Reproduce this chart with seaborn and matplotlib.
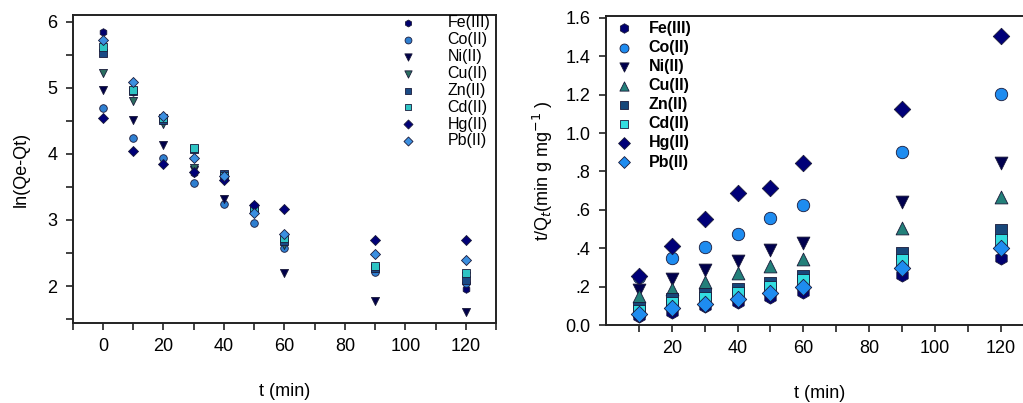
import numpy as np
import pandas as pd
import matplotlib
matplotlib.use("Agg")
import matplotlib.pyplot as plt
import seaborn as sns
from matplotlib.ticker import FixedLocator, FuncFormatter

sns.set_style("ticks")
plt.rcParams['font.family'] = ['Liberation Sans', 'DejaVu Sans']
plt.rcParams['text.color'] = 'black'
plt.rcParams['axes.labelcolor'] = 'black'

metals = ["Fe(III)", "Co(II)", "Ni(II)", "Cu(II)", "Zn(II)", "Cd(II)", "Hg(II)", "Pb(II)"]

# Left panel: pseudo-first-order ln(Qe-Qt) vs t
t_left = [0, 10, 20, 30, 40, 50, 60, 90, 120]
ln_fe = [5.85, 4.93, 4.50, 3.71, 3.62, 3.22, 2.65, 2.25, 1.96]
ln_co = [4.69, 4.24, 3.94, 3.56, 3.24, 2.96, 2.57, 2.21, 2.05]
ln_ni = [4.97, 4.51, 4.14, 3.76, 3.32, 3.15, 2.19, 1.77, 1.60]
ln_cu = [5.23, 4.80, 4.45, 3.78, 3.63, 3.15, 2.62, 2.27, 2.15]
ln_zn = [5.52, 4.95, 4.52, 4.08, 3.69, 3.18, 2.68, 2.28, 2.09]
ln_cd = [5.62, 4.97, 4.55, 4.09, 3.67, 3.17, 2.72, 2.30, 2.20]
ln_hg = [4.54, 4.04, 3.84, 3.72, 3.60, 3.22, 3.17, 2.70, 2.70]
ln_pb = [5.73, 5.09, 4.58, 3.93, 3.66, 3.10, 2.78, 2.48, 2.40]

# Right panel: pseudo-second-order t/Qt vs t
t_right = [10, 20, 30, 40, 50, 60, 90, 120]
tq_fe = [0.045, 0.070, 0.100, 0.118, 0.148, 0.174, 0.260, 0.347]
tq_co = [0.250, 0.347, 0.405, 0.474, 0.556, 0.625, 0.903, 1.204]
tq_ni = [0.180, 0.238, 0.287, 0.335, 0.390, 0.429, 0.643, 0.846]
tq_cu = [0.150, 0.190, 0.226, 0.270, 0.307, 0.344, 0.504, 0.665]
tq_zn = [0.087, 0.134, 0.162, 0.190, 0.220, 0.255, 0.374, 0.495]
tq_cd = [0.075, 0.115, 0.140, 0.165, 0.200, 0.235, 0.339, 0.443]
tq_hg = [0.255, 0.410, 0.552, 0.690, 0.712, 0.846, 1.125, 1.506]
tq_pb = [0.060, 0.087, 0.109, 0.134, 0.168, 0.196, 0.299, 0.400]

left_vals = [ln_fe, ln_co, ln_ni, ln_cu, ln_zn, ln_cd, ln_hg, ln_pb]
right_vals = [tq_fe, tq_co, tq_ni, tq_cu, tq_zn, tq_cd, tq_hg, tq_pb]

left_style = {
    "Fe(III)": ("h", "#00006e", 30),
    "Co(II)": ("o", "#2f7fd0", 30),
    "Ni(II)": ("v", "#00004a", 34),
    "Cu(II)": ("v", "#2a6e60", 34),
    "Zn(II)": ("s", "#1a4a85", 28),
    "Cd(II)": ("s", "#2ec4c4", 28),
    "Hg(II)": ("D", "#000078", 26),
    "Pb(II)": ("D", "#3b8fe0", 26),
}
right_style = {
    "Fe(III)": ("h", "#000070", 90),
    "Co(II)": ("o", "#1e8cf0", 80),
    "Ni(II)": ("v", "#00004e", 85),
    "Cu(II)": ("^", "#23807a", 85),
    "Zn(II)": ("s", "#17477a", 65),
    "Cd(II)": ("s", "#33dde0", 65),
    "Hg(II)": ("D", "#000078", 70),
    "Pb(II)": ("D", "#1e8cf0", 70),
}

fig = plt.figure(figsize=(10.23, 4.03), dpi=100)
ax1 = fig.add_axes([0.0711, 0.1985, 0.4138, 0.764])
ax2 = fig.add_axes([0.5924, 0.1935, 0.418, 0.767])

df_left = pd.DataFrame({"t": np.tile(t_left, len(metals)),
                        "v": np.concatenate(left_vals),
                        "metal": np.repeat(metals, len(t_left))})
df_right = pd.DataFrame({"t": np.tile(t_right, len(metals)),
                         "v": np.concatenate(right_vals),
                         "metal": np.repeat(metals, len(t_right))})

for m in metals:
    mk, c, s = left_style[m]
    sns.scatterplot(data=df_left[df_left.metal == m], x="t", y="v", ax=ax1,
                    marker=mk, color=c, s=s, edgecolor="#1a1a3a", linewidth=0.6,
                    label=m, legend=False, zorder=3)
    mk, c, s = right_style[m]
    sns.scatterplot(data=df_right[df_right.metal == m], x="t", y="v", ax=ax2,
                    marker=mk, color=c, s=s, edgecolor="#1a1a3a", linewidth=0.6,
                    label=m, legend=False, zorder=3)

for ax in (ax1, ax2):
    for sp in ax.spines.values():
        sp.set_linewidth(1.4)
        sp.set_color("#222222")
        sp.set_visible(True)
    ax.tick_params(which="both", direction="out", width=1.2, color="#222222",
                   labelcolor="black", labelsize=13, length=5, pad=6)

ax1.set_xlabel("t (min)", fontsize=13, labelpad=20)
ax2.set_xlabel("t (min)", fontsize=13, labelpad=20)

# Left axes
ax1.set_xlim(-10, 130)
ax1.set_ylim(1.44, 6.1)
ax1.xaxis.set_major_locator(FixedLocator([0, 20, 40, 60, 80, 100, 120]))
ax1.xaxis.set_minor_locator(FixedLocator([-10, 10, 30, 50, 70, 90, 110, 130]))
ax1.yaxis.set_major_locator(FixedLocator([2, 3, 4, 5, 6]))
ax1.yaxis.set_minor_locator(FixedLocator([1.5, 2.5, 3.5, 4.5, 5.5]))
ax1.set_ylabel("ln(Qe-Qt)", fontsize=13, labelpad=13)

# Right axes
ax2.set_xlim(0, 130)
ax2.set_ylim(0, 1.61)
ax2.xaxis.set_major_locator(FixedLocator([20, 40, 60, 80, 100, 120]))
ax2.xaxis.set_minor_locator(FixedLocator([10, 30, 50, 70, 90, 110]))
ax2.yaxis.set_major_locator(FixedLocator([0, 0.2, 0.4, 0.6, 0.8, 1.0, 1.2, 1.4, 1.6]))

def yfmt(v, pos):
    if abs(v) < 1e-9:
        return "0.0"
    if v < 0.99:
        return ("%.1f" % v)[1:]
    return "%.1f" % v

ax2.yaxis.set_major_formatter(FuncFormatter(yfmt))
ax2.set_ylabel("t/Q$_t$(min g mg$^{-1}$ )", fontsize=13, labelpad=8)

leg1 = ax1.legend(loc="upper left", bbox_to_anchor=(0.757, 1.021), frameon=False,
                  fontsize=11.5, labelspacing=0.12, handletextpad=2.0,
                  borderaxespad=0.0, handlelength=1.0, markerscale=0.9)
leg2 = ax2.legend(loc="upper left", bbox_to_anchor=(0.002, 1.016), frameon=False,
                  prop={"weight": "bold", "size": 11.5}, labelspacing=0.26,
                  handletextpad=1.0, borderaxespad=0.2, handlelength=1.0,
                  markerscale=0.72)

fig.savefig("out.png", dpi=100)
